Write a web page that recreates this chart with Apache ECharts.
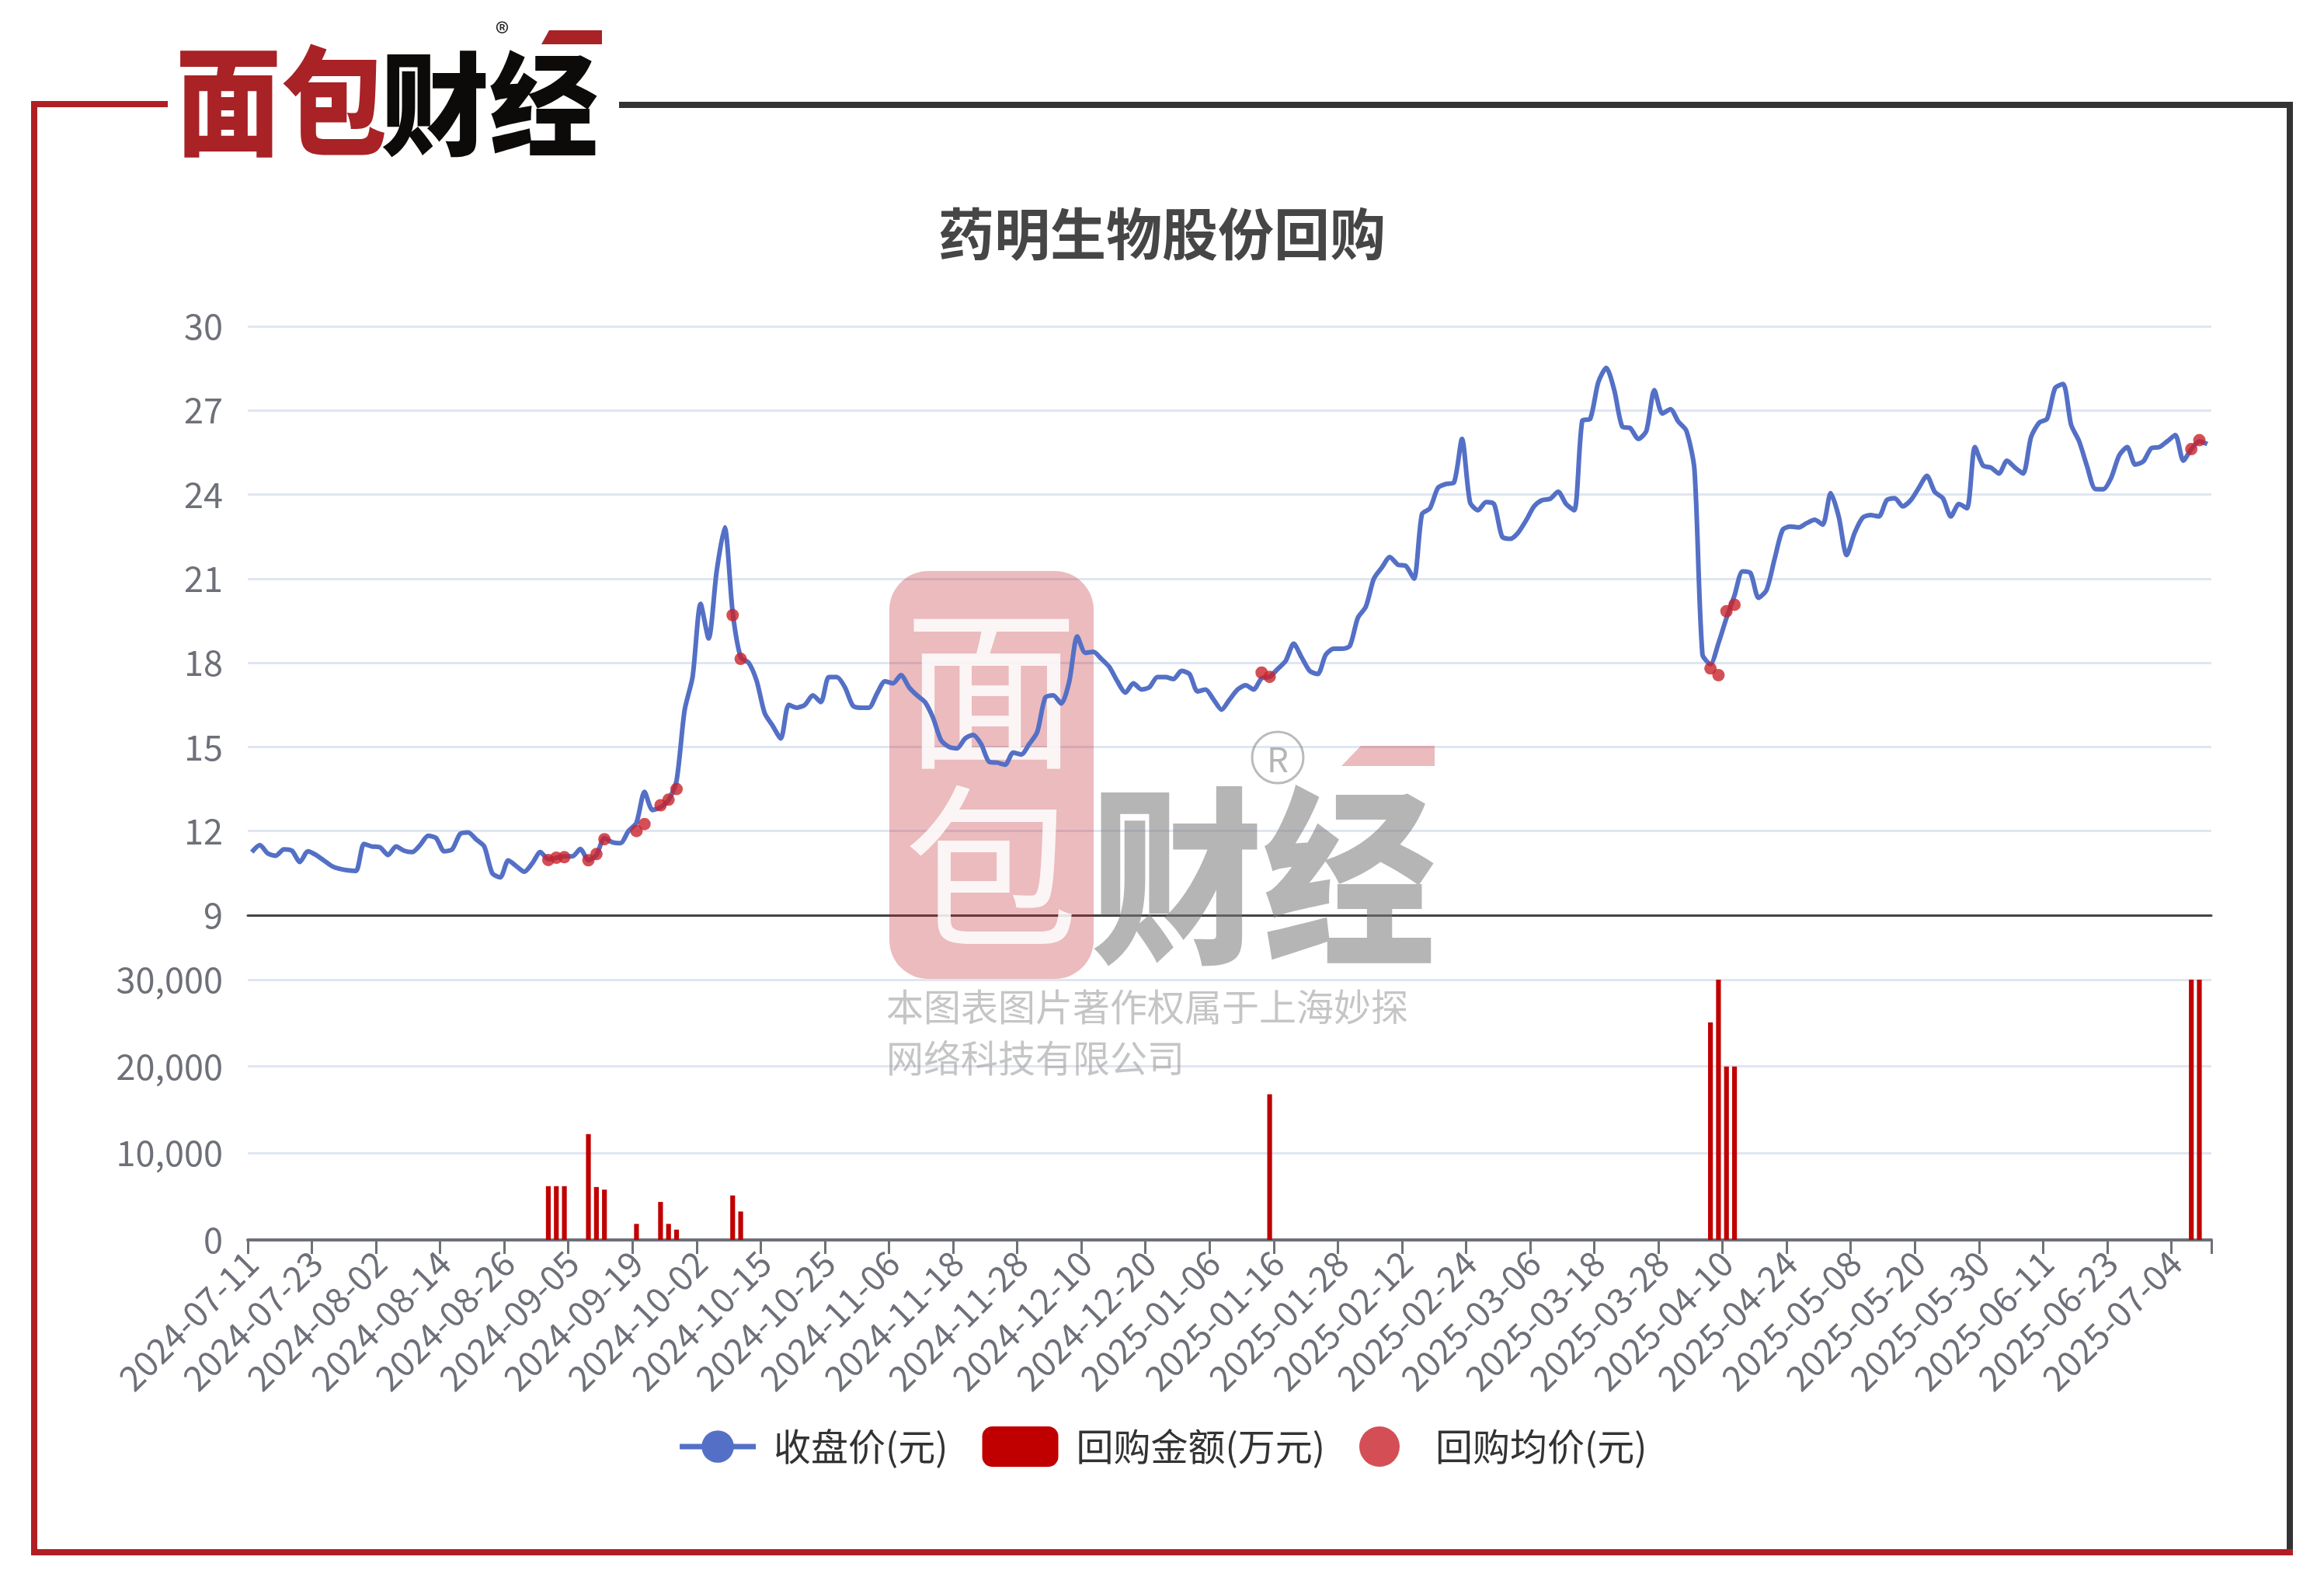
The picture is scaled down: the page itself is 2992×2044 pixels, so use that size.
<!DOCTYPE html>
<html>
<head>
<meta charset="utf-8">
<script src="https://cdn.jsdelivr.net/npm/echarts@6/dist/echarts.min.js"></script>
<style>
html,body{margin:0;padding:0;background:#fff;}
#chart{width:2992px;height:2044px;}
</style>
</head>
<body>
<div id="chart"></div>
<script>
// ---------- data ----------
const dates = [
"2024-07-11","2024-07-12","2024-07-15","2024-07-16","2024-07-17","2024-07-18","2024-07-19","2024-07-22","2024-07-23","2024-07-24","2024-07-25","2024-07-26","2024-07-29","2024-07-30","2024-07-31",
"2024-08-01","2024-08-02","2024-08-05","2024-08-06","2024-08-07","2024-08-08","2024-08-09","2024-08-12","2024-08-13","2024-08-14","2024-08-15","2024-08-16","2024-08-19","2024-08-20","2024-08-21","2024-08-22","2024-08-23","2024-08-26","2024-08-27","2024-08-28","2024-08-29","2024-08-30",
"2024-09-02","2024-09-03","2024-09-04","2024-09-05","2024-09-09","2024-09-10","2024-09-11","2024-09-12","2024-09-13","2024-09-16","2024-09-17","2024-09-19","2024-09-20","2024-09-23","2024-09-24","2024-09-25","2024-09-26","2024-09-27","2024-09-30",
"2024-10-02","2024-10-03","2024-10-04","2024-10-07","2024-10-08","2024-10-09","2024-10-10","2024-10-14","2024-10-15","2024-10-16","2024-10-17","2024-10-18","2024-10-21","2024-10-22","2024-10-23","2024-10-24","2024-10-25","2024-10-28","2024-10-29","2024-10-30","2024-10-31",
"2024-11-01","2024-11-04","2024-11-05","2024-11-06","2024-11-07","2024-11-08","2024-11-11","2024-11-12","2024-11-13","2024-11-14","2024-11-15","2024-11-18","2024-11-19","2024-11-20","2024-11-21","2024-11-22","2024-11-25","2024-11-26","2024-11-27","2024-11-28","2024-11-29",
"2024-12-02","2024-12-03","2024-12-04","2024-12-05","2024-12-06","2024-12-09","2024-12-10","2024-12-11","2024-12-12","2024-12-13","2024-12-16","2024-12-17","2024-12-18","2024-12-19","2024-12-20","2024-12-23","2024-12-24","2024-12-27","2024-12-30","2024-12-31",
"2025-01-02","2025-01-03","2025-01-06","2025-01-07","2025-01-08","2025-01-09","2025-01-10","2025-01-13","2025-01-14","2025-01-15","2025-01-16","2025-01-17","2025-01-20","2025-01-21","2025-01-22","2025-01-23","2025-01-24","2025-01-27","2025-01-28",
"2025-02-03","2025-02-04","2025-02-05","2025-02-06","2025-02-07","2025-02-10","2025-02-11","2025-02-12","2025-02-13","2025-02-14","2025-02-17","2025-02-18","2025-02-19","2025-02-20","2025-02-21","2025-02-24","2025-02-25","2025-02-26","2025-02-27","2025-02-28",
"2025-03-03","2025-03-04","2025-03-05","2025-03-06","2025-03-07","2025-03-10","2025-03-11","2025-03-12","2025-03-13","2025-03-14","2025-03-17","2025-03-18","2025-03-19","2025-03-20","2025-03-21","2025-03-24","2025-03-25","2025-03-26","2025-03-27","2025-03-28","2025-03-31",
"2025-04-01","2025-04-02","2025-04-03","2025-04-07","2025-04-08","2025-04-09","2025-04-10","2025-04-11","2025-04-14","2025-04-15","2025-04-16","2025-04-17","2025-04-22","2025-04-23","2025-04-24","2025-04-25","2025-04-28","2025-04-29","2025-04-30",
"2025-05-02","2025-05-06","2025-05-07","2025-05-08","2025-05-09","2025-05-12","2025-05-13","2025-05-14","2025-05-15","2025-05-16","2025-05-19","2025-05-20","2025-05-21","2025-05-22","2025-05-23","2025-05-26","2025-05-27","2025-05-28","2025-05-29","2025-05-30",
"2025-06-02","2025-06-03","2025-06-04","2025-06-05","2025-06-06","2025-06-09","2025-06-10","2025-06-11","2025-06-12","2025-06-13","2025-06-16","2025-06-17","2025-06-18","2025-06-19","2025-06-20","2025-06-23","2025-06-24","2025-06-25","2025-06-26","2025-06-27","2025-06-30",
"2025-07-02","2025-07-03","2025-07-04","2025-07-07","2025-07-08","2025-07-09","2025-07-10"
];

// 收盘价(元)
const closePrice = [
11.25,11.5,11.2,11.12,11.35,11.3,10.9,11.28,11.15,10.95,10.75,10.65,10.6,10.58,11.54,
11.45,11.42,11.15,11.45,11.3,11.25,11.5,11.83,11.75,11.28,11.35,11.9,11.95,11.7,11.45,10.5,10.35,10.95,10.75,10.55,10.85,11.25,
11.0,11.05,11.1,11.1,11.36,10.96,11.15,11.75,11.6,11.57,12.0,12.3,13.4,12.75,12.85,13.1,13.8,16.3,17.5,
20.1,18.87,21.26,22.83,19.8,18.2,18.0,17.35,16.2,15.75,15.3,16.5,16.4,16.5,16.84,16.6,17.49,17.49,17.13,16.47,16.4,
16.4,16.9,17.34,17.27,17.56,17.13,16.84,16.6,16.04,15.24,15.0,14.95,15.3,15.43,15.1,14.47,14.44,14.37,14.8,14.73,15.1,
15.53,16.76,16.84,16.55,17.34,18.94,18.36,18.39,18.14,17.85,17.34,16.94,17.27,17.05,17.13,17.49,17.49,17.42,17.71,17.6,
16.98,17.05,16.69,16.33,16.69,17.05,17.2,17.05,17.45,17.5,17.78,18.07,18.68,18.19,17.71,17.6,18.29,18.5,18.5,
18.6,19.6,20.0,21.0,21.4,21.77,21.5,21.45,21.0,23.3,23.51,24.24,24.38,24.43,25.98,23.73,23.44,23.73,23.66,22.5,
22.42,22.64,23.08,23.58,23.8,23.85,24.1,23.66,23.44,26.63,26.7,28.0,28.52,27.72,26.42,26.37,25.98,26.27,27.72,26.89,27.04,
26.6,26.27,24.9,18.3,17.95,18.7,19.6,20.4,21.26,21.2,20.32,20.6,21.7,22.74,22.86,22.83,22.98,23.1,22.93,
24.05,23.22,21.84,22.64,23.18,23.27,23.22,23.8,23.87,23.58,23.8,24.24,24.67,24.09,23.87,23.22,23.66,23.51,25.69,25.04,
24.96,24.75,25.21,24.96,24.75,26.05,26.56,26.7,27.8,27.94,26.49,25.9,25.0,24.2,24.19,24.6,25.4,25.69,25.07,25.18,25.65,
25.69,25.9,26.12,25.21,25.62,25.9,25.8
];

// 回购日期 / 回购金额(万元) / 回购均价(元)
const buybackDates = [
"2024-09-02","2024-09-03","2024-09-04","2024-09-10","2024-09-11","2024-09-12","2024-09-19","2024-09-20",
"2024-09-24","2024-09-25","2024-09-26","2024-10-08","2024-10-09","2025-01-14","2025-01-15",
"2025-04-08","2025-04-09","2025-04-10","2025-04-11","2025-07-08","2025-07-09"
];
const buybackAmount = [
6200,6200,6200,12200,6100,5800,1850,null,
4380,1850,1190,5130,3280,null,16780,
25070,30000,20000,20000,30000,30000
];
const buybackAvgPrice = [
10.97,11.05,11.07,10.96,11.18,11.71,12.0,12.25,
12.92,13.12,13.5,19.7,18.14,17.65,17.5,
17.8,17.56,19.84,20.07,25.62,25.94
];

const yTicksPrice = {min: 9, max: 30, interval: 3};
const yTicksAmount = {min: 0, max: 30000, interval: 10000};

// ---------- build aligned series ----------
const amountSeries = dates.map(() => null);
const avgSeries = dates.map(() => null);
buybackDates.forEach((d, k) => {
  const i = dates.indexOf(d);
  if (i >= 0) {
    amountSeries[i] = buybackAmount[k];
    avgSeries[i] = buybackAvgPrice[k];
  }
});

const FONT = '"Noto Sans CJK SC", "Noto Sans", sans-serif';
const RED_FRAME = '#b01f24';
const DARK_FRAME = '#333333';

const chart = echarts.init(document.getElementById('chart'), null, {renderer: 'canvas'});

const option = {
  animation: false,
  backgroundColor: '#ffffff',
  textStyle: {fontFamily: FONT},
  title: {
    text: '药明生物股份回购',
    left: 'center',
    top: 260,
    textStyle: {fontSize: 72, fontWeight: 'bold', color: '#464646', fontFamily: FONT}
  },
  legend: {
    top: 1831,
    left: 'center',
    itemWidth: 98,
    itemHeight: 52,
    itemGap: 44,
    textStyle: {fontSize: 48, color: '#333', fontFamily: FONT, padding: [0, 0, 0, 18]},
    data: [
      {name: '收盘价(元)', lineStyle: {width: 7}},
      {name: '回购金额(万元)', icon: 'roundRect'},
      {name: '回购均价(元)', icon: 'circle'}
    ]
  },
  grid: [
    {left: 319, right: 145, top: 420, height: 758},
    {left: 319, right: 145, top: 1261, height: 335}
  ],
  xAxis: [
    {
      type: 'category', gridIndex: 0, data: dates, boundaryGap: true,
      axisLabel: {show: false}, axisTick: {show: false},
      axisLine: {show: true, lineStyle: {color: '#444', width: 3}}
    },
    {
      type: 'category', gridIndex: 1, data: dates, boundaryGap: true,
      axisLabel: {interval: 7, rotate: 45, fontSize: 45, color: '#6e7079', margin: 22, fontFamily: FONT},
      axisTick: {show: true, interval: 7, length: 18, lineStyle: {color: '#6e7079', width: 3}},
      axisLine: {show: true, lineStyle: {color: '#6e7079', width: 4}}
    }
  ],
  yAxis: [
    {
      type: 'value', gridIndex: 0,
      min: yTicksPrice.min, max: yTicksPrice.max, interval: yTicksPrice.interval,
      axisLabel: {fontSize: 45, color: '#6e7079', margin: 32, fontFamily: FONT},
      splitLine: {lineStyle: {color: '#e0e6f1', width: 3}},
      axisLine: {show: false}, axisTick: {show: false}
    },
    {
      type: 'value', gridIndex: 1,
      min: yTicksAmount.min, max: yTicksAmount.max, interval: yTicksAmount.interval,
      axisLabel: {fontSize: 45, color: '#6e7079', margin: 32, fontFamily: FONT,
        formatter: v => v.toLocaleString('en-US')},
      splitLine: {lineStyle: {color: '#e0e6f1', width: 3}},
      axisLine: {show: false}, axisTick: {show: false}
    }
  ],
  series: [
    {
      name: '收盘价(元)', type: 'line', xAxisIndex: 0, yAxisIndex: 0,
      data: closePrice, showSymbol: false, symbol: 'circle', smooth: 0.25,
      itemStyle: {color: '#5470c6'},
      lineStyle: {color: '#5470c6', width: 6},
      z: 3
    },
    {
      name: '回购金额(万元)', type: 'bar', xAxisIndex: 1, yAxisIndex: 1,
      data: amountSeries, barWidth: '60%',
      itemStyle: {color: '#c00000'},
      z: 3
    },
    {
      name: '回购均价(元)', type: 'scatter', xAxisIndex: 0, yAxisIndex: 0,
      data: avgSeries, symbol: 'circle', symbolSize: 16,
      itemStyle: {color: '#c9232a'},
      z: 4
    }
  ],
  graphic: {
    elements: [
      // frame
      {type: 'rect', shape: {x: 40, y: 130, width: 8, height: 1872}, style: {fill: RED_FRAME}, z: 10},
      {type: 'rect', shape: {x: 40, y: 130, width: 176, height: 8}, style: {fill: RED_FRAME}, z: 10},
      {type: 'rect', shape: {x: 797, y: 131, width: 2155, height: 8}, style: {fill: DARK_FRAME}, z: 10},
      {type: 'rect', shape: {x: 2944, y: 131, width: 8, height: 1871}, style: {fill: DARK_FRAME}, z: 10},
      {type: 'rect', shape: {x: 40, y: 1994, width: 2912, height: 8}, style: {fill: RED_FRAME}, z: 11},
      // top-left logo
      {type: 'text', x: 226, y: 54, style: {text: '面包', fontSize: 136, fontWeight: 900, fill: '#a82226', fontFamily: FONT}, scaleY: 1.12, z: 10},
      {type: 'text', x: 490, y: 62, style: {text: '财经', fontSize: 140, fontWeight: 900, fill: '#0d0b0a', fontFamily: FONT}, scaleY: 1.03, z: 10},
      {type: 'polygon', shape: {points: [[707, 39], [775, 39], [775, 57], [697, 57]]}, style: {fill: '#a82226'}, z: 10},
      {type: 'text', x: 638, y: 24, style: {text: '®', fontSize: 36, fill: '#222', fontFamily: FONT}, z: 10},
      // watermark
      {type: 'rect', shape: {x: 1145, y: 735, width: 263, height: 525, r: 50}, style: {fill: 'rgba(190,30,40,0.30)'}, z: 1},
      {type: 'text', x: 1276, y: 885, style: {text: '面', fontSize: 225, fontWeight: 'normal', fill: 'rgba(255,255,255,0.85)', align: 'center', verticalAlign: 'middle', fontFamily: FONT}, z: 1},
      {type: 'text', x: 1276, y: 1115, style: {text: '包', fontSize: 225, fontWeight: 'normal', fill: 'rgba(255,255,255,0.85)', align: 'center', verticalAlign: 'middle', fontFamily: FONT}, z: 1},
      {type: 'text', x: 1404, y: 1128, style: {text: '财经', fontSize: 222, fontWeight: 900, fill: 'rgba(120,120,120,0.55)', verticalAlign: 'middle', fontFamily: FONT}, scaleY: 1.1, z: 1},
      {type: 'polygon', shape: {points: [[1752, 960], [1847, 960], [1847, 986], [1727, 986]]}, style: {fill: 'rgba(190,30,40,0.30)'}, z: 1},
      {type: 'circle', shape: {cx: 1645, cy: 975, r: 33}, style: {fill: 'none', stroke: 'rgba(120,120,120,0.5)', lineWidth: 3}, z: 1},
      {type: 'text', x: 1645, y: 977, style: {text: 'R', fontSize: 44, fill: 'rgba(120,120,120,0.55)', align: 'center', verticalAlign: 'middle', fontFamily: FONT}, z: 1},
      {type: 'text', x: 1141, y: 1296, style: {text: '本图表图片著作权属于上海妙探', fontSize: 48, fill: 'rgba(140,140,140,0.5)', verticalAlign: 'middle', fontFamily: FONT}, z: 1},
      {type: 'text', x: 1141, y: 1362, style: {text: '网络科技有限公司', fontSize: 48, fill: 'rgba(140,140,140,0.5)', verticalAlign: 'middle', fontFamily: FONT}, z: 1}
    ]
  }
};
chart.setOption(option);
</script>
</body>
</html>
